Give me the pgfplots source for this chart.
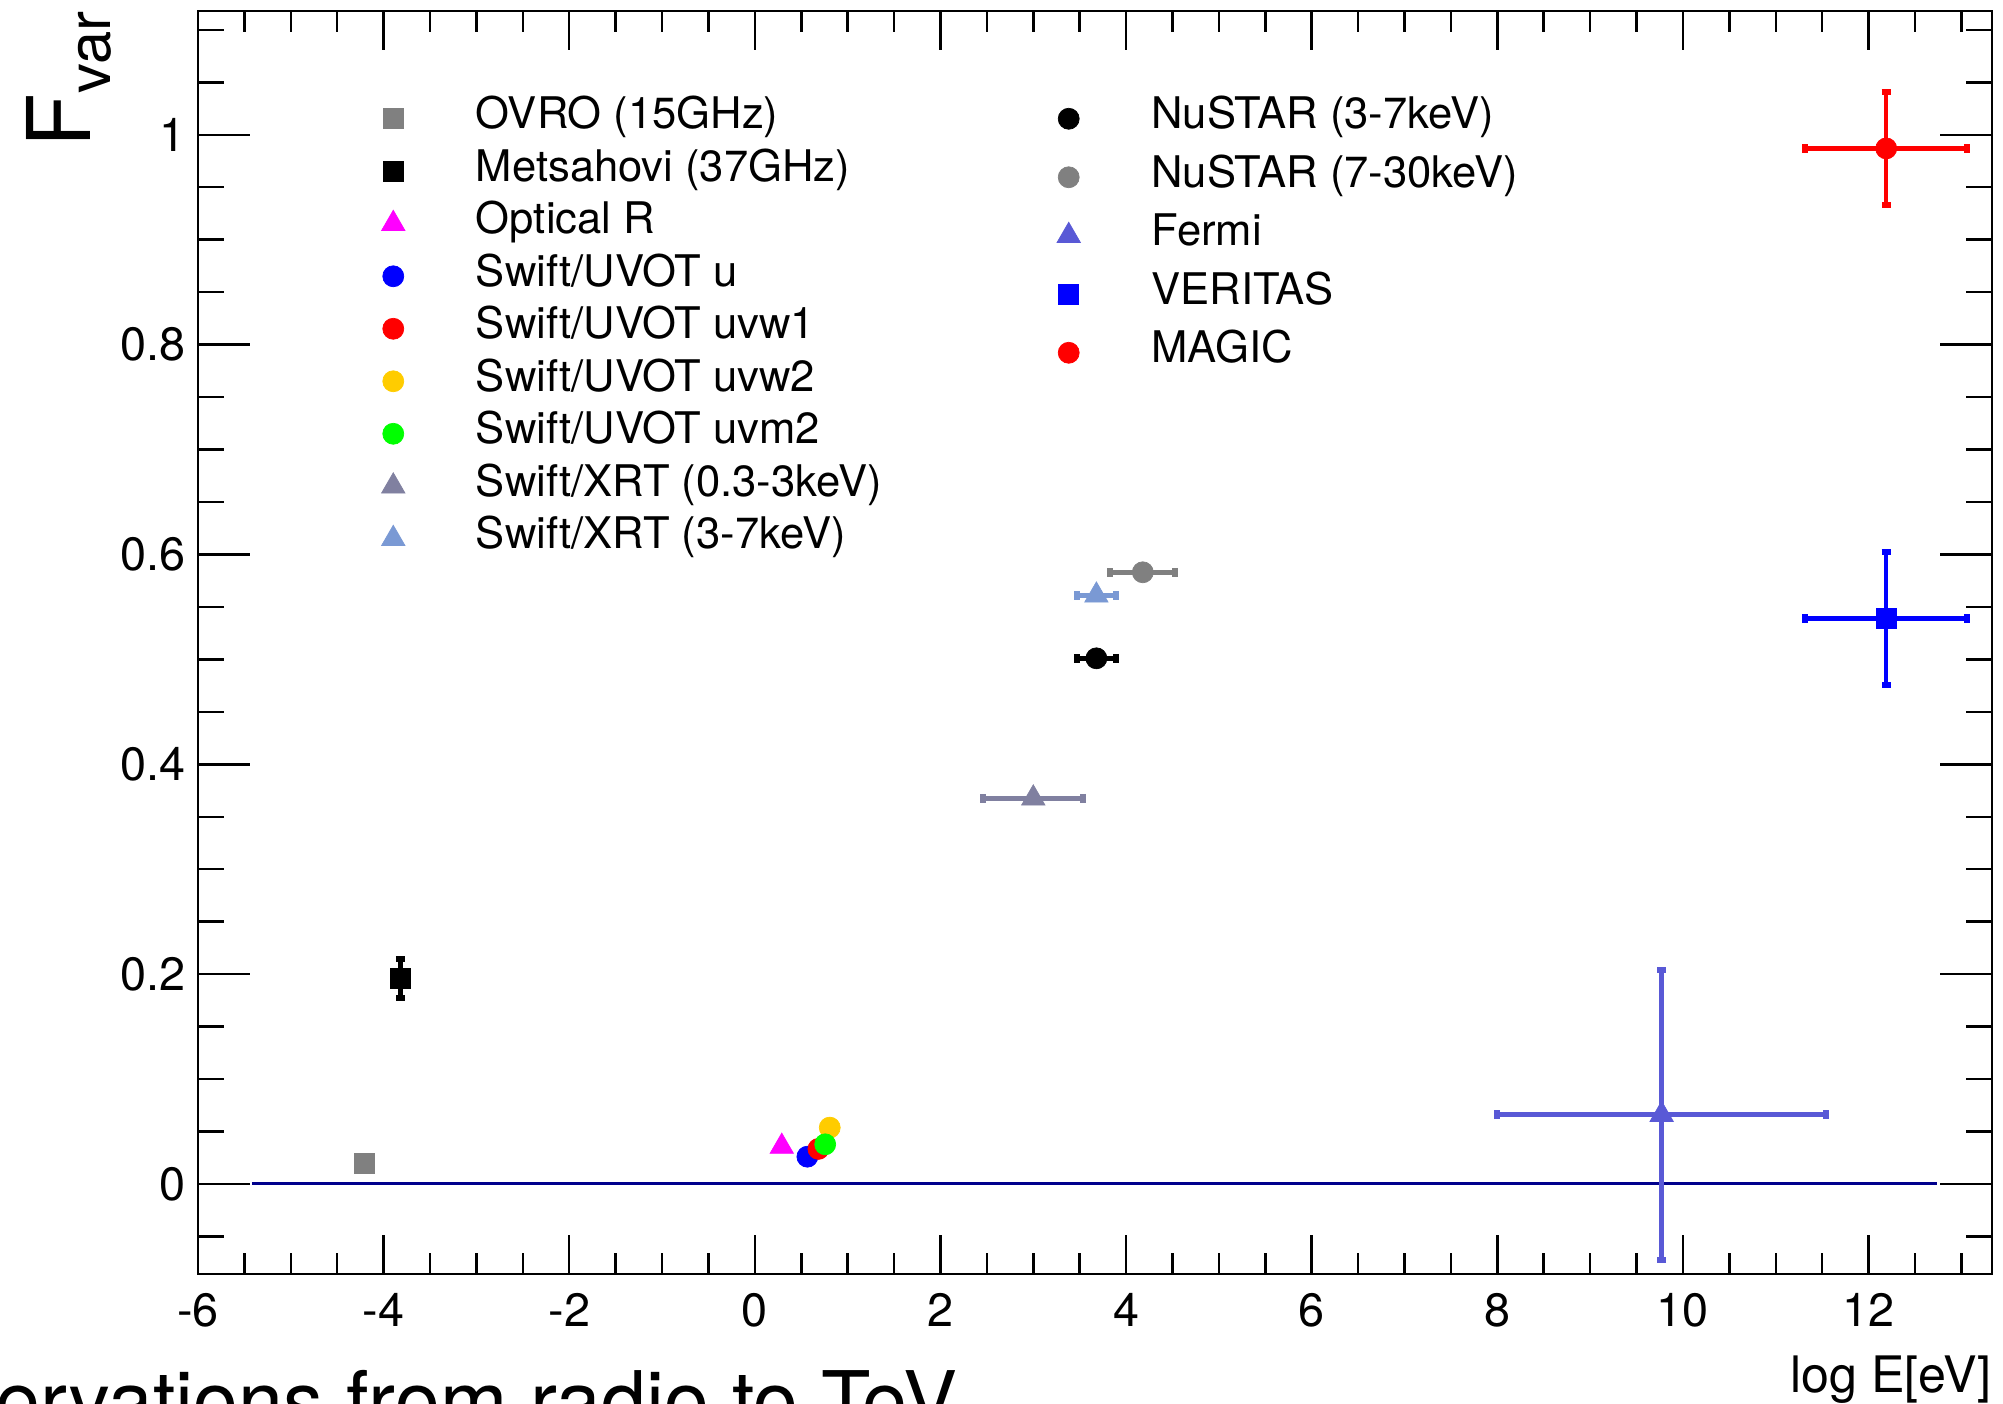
\documentclass[border=0pt]{standalone}
\usepackage{fontspec}
\setmainfont{TeX Gyre Heros}
\usepackage{pgfplots}
\pgfplotsset{compat=1.18}

\definecolor{ovrogray}{RGB}{128,128,128}
\definecolor{uvwtwo}{RGB}{255,204,0}
\definecolor{uvmtwo}{RGB}{0,255,0}
\definecolor{xrtsoft}{RGB}{128,128,160}
\definecolor{xrthard}{RGB}{122,153,212}
\definecolor{fermic}{RGB}{89,89,214}
\definecolor{linenavy}{RGB}{0,0,140}
\definecolor{pureblue}{RGB}{0,0,255}
\definecolor{purered}{RGB}{255,0,0}
\definecolor{puremagenta}{RGB}{255,0,255}

\pgfplotsset{
  common/.style={
    scale only axis, width=17.94cm, height=12.63cm,
    xmin=-6, xmax=13.33, ymin=-0.0858, ymax=1.118,
    clip=false,
  },
  pt/.style={only marks, color=#1,
    mark options={fill=#1, draw=#1, line width=0.2pt},
    error bars/error bar style={line width=0.045cm, color=#1},
    error bars/error mark options={rotate=90, line width=0.06cm, mark size=0.045cm, color=#1}},
  sq/.style={mark=square*, mark size=0.10cm},
  ci/.style={mark=*, mark size=0.105cm},
  tr/.style={mark=triangle*, mark size=0.135cm},
  leg/.style={legend style={draw=none, fill=none, inner sep=0pt, outer sep=0pt,
      row sep=#1, column sep=0pt,
      nodes={inner sep=0pt, text height=0.30cm, text depth=0.10cm, font=\fontsize{12.4}{14}\selectfont}},
    legend cell align=left,
    legend image code/.code={\path (-0.15cm,0cm) (0.82cm,0cm);
      \draw[mark repeat=2, mark phase=2, ##1] plot coordinates {(-0.1cm,0cm) (0cm,0cm) (0.1cm,0cm)};}},
}

\begin{document}
\begin{tikzpicture}
\begin{axis}[common, leg=0.125cm,
  legend style={at={(axis description cs:0.1001,0.9305)}, anchor=north west},
  axis line style={line width=0.027cm},
  every tick/.style={black, line width=0.025cm},
  xtick style={/pgfplots/major tick length=0.39cm, /pgfplots/minor tick length=0.21cm},
  ytick style={/pgfplots/major tick length=0.52cm, /pgfplots/minor tick length=0.26cm},
  xtick={-6,-4,...,12},
  minor xtick={-6,-5.5,...,13},
  ytick={0,0.2,0.4,0.6,0.8,1},
  minor ytick={-0.05,0,0.05,0.1,0.15,0.2,0.25,0.3,0.35,0.4,0.45,0.5,0.55,0.6,0.65,0.7,0.75,0.8,0.85,0.9,0.95,1,1.05,1.1},
  /pgf/number format/assume math mode=true,
  ticklabel style={font=\fontsize{13.3}{16}\selectfont},
  xticklabel style={yshift=-0.07cm},
  xlabel={log E[eV]},
  xlabel style={at={(axis description cs:1,-0.0942)}, anchor=base east, inner sep=0pt, font=\fontsize{14.3}{17}\selectfont},
  ylabel={\fontsize{25}{30}\selectfont F\raisebox{-0.2cm}{\fontsize{17}{20}\selectfont var}},
  ylabel style={at={(axis description cs:-0.0602,1)}, anchor=base east, inner sep=0pt},
]
\addplot[linenavy, line width=0.03cm, forget plot] coordinates {(-5.42,0) (12.74,0)};

\addplot[pt=ovrogray, sq] coordinates {(-4.21,0.0197)};
\addlegendentry{OVRO (15GHz)}
\addplot[pt=black, sq, error bars/.cd, y dir=both, y explicit] coordinates {(-3.82,0.196) +- (0,0.0187)};
\addlegendentry{Metsahovi (37GHz)}
\addplot[pt=puremagenta, tr] coordinates {(0.29,0.0356)};
\addlegendentry{Optical R}
\addplot[pt=pureblue, ci] coordinates {(0.566,0.026)};
\addlegendentry{Swift/UVOT u}
\addplot[pt=purered, ci] coordinates {(0.685,0.0334)};
\addlegendentry{Swift/UVOT uvw1}
\addplot[pt=uvwtwo, ci] coordinates {(0.807,0.0537)};
\addlegendentry{Swift/UVOT uvw2}
\addplot[pt=uvmtwo, ci] coordinates {(0.758,0.0378)};
\addlegendentry{Swift/UVOT uvm2}
\addplot[pt=xrtsoft, tr, error bars/.cd, x dir=both, x explicit] coordinates {(3.0,0.3676) +- (0.54,0)};
\addlegendentry{Swift/XRT (0.3-3keV)}
\addplot[pt=xrthard, tr, error bars/.cd, x dir=both, x explicit] coordinates {(3.68,0.561) +- (0.21,0)};
\addlegendentry{Swift/XRT (3-7keV)}
\end{axis}

\begin{axis}[common, hide axis, leg=0.185cm,
  legend style={at={(axis description cs:0.4766,0.9305)}, anchor=north west},
]
\addplot[pt=black, ci, error bars/.cd, x dir=both, x explicit] coordinates {(3.68,0.501) +- (0.21,0)};
\addlegendentry{NuSTAR (3-7keV)}
\addplot[pt=ovrogray, ci, error bars/.cd, x dir=both, x explicit] coordinates {(4.18,0.583) +- (0.35,0)};
\addlegendentry{NuSTAR (7-30keV)}
\addplot[pt=fermic, tr, error bars/.cd, x dir=both, x explicit, y dir=both, y explicit] coordinates {(9.77,0.066) +- (1.77,0.138)};
\addlegendentry{Fermi}
\addplot[pt=pureblue, sq, error bars/.cd, x dir=both, x explicit, y dir=both, y explicit] coordinates {(12.19,0.539) +- (0.87,0.063)};
\addlegendentry{VERITAS}
\addplot[pt=purered, ci, error bars/.cd, x dir=both, x explicit, y dir=both, y explicit] coordinates {(12.19,0.987) +- (0.87,0.054)};
\addlegendentry{MAGIC}
\end{axis}

\node[anchor=base east, inner sep=0pt, font=\fontsize{23}{28}\selectfont] at (7.60cm,-1.56cm) {observations from radio to TeV};

\pgfresetboundingbox
\useasboundingbox (-1.98,-1.30) rectangle (18.05,12.74);
\end{tikzpicture}
\end{document}
